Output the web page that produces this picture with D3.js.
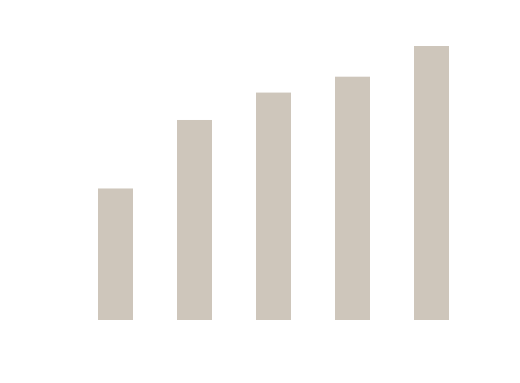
<!DOCTYPE html>
<html lang="en">
<head>
  <meta charset="UTF-8">
  <title>bars</title>
  <style>
    body { margin: 0; background: #fff; overflow: hidden; }
  </style>
</head>
<body>
  <div class="chart"></div>
  <script src="https://cdnjs.cloudflare.com/ajax/libs/d3/7.8.5/d3.min.js"></script>
  <script>
    const categories = ['1', '2', '3', '4', '5'];
    const values = [4.8, 7.3, 8.3, 8.88, 10];

    const width = 520;
    const height = 383;

    const x = d3.scaleBand()
      .domain(categories)
      .range([76, 471])
      .paddingInner(0.557)
      .paddingOuter(0.2785);

    const y = d3.scaleLinear()
      .domain([0, 10])
      .range([320, 46]);

    const svg = d3.select('.chart')
      .append('svg')
      .attr('width', width)
      .attr('height', height);

    svg.selectAll('rect')
      .data(values)
      .enter()
      .append('rect')
      .attr('x', (v, i) => x(categories[i]))
      .attr('y', v => y(v))
      .attr('width', x.bandwidth())
      .attr('height', v => y(0) - y(v))
      .attr('fill', '#cec6bb');
  </script>
</body>
</html>
